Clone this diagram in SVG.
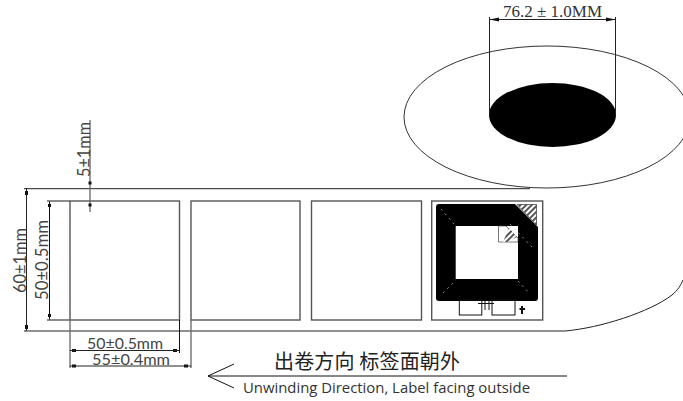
<svg xmlns="http://www.w3.org/2000/svg" width="683" height="401" viewBox="0 0 683 401">
<style>
.k{fill:none;stroke:#111;stroke-width:1}
.g{fill:none;stroke:#666;stroke-width:1.3}
.d{fill:none;stroke:#222;stroke-width:1}
.f{fill:#111}
.t{font-family:"Lato","Inter",sans-serif;font-weight:400;fill:#444;font-size:17px}
.s{font-size:14.500px}
.lab{fill:#fff;stroke:#555;stroke-width:1.4}
</style>
<defs>
<pattern id="hatch" width="4" height="4" patternUnits="userSpaceOnUse" patternTransform="rotate(45)"><rect width="4" height="4" fill="#fff"/><rect width="2" height="4" fill="#555"/></pattern>
</defs>
<rect width="683" height="401" fill="#fff"/>
<g id="roll">
<ellipse cx="547" cy="117" rx="143" ry="71" fill="none" stroke="#333" stroke-width="1"/>
<ellipse cx="552.5" cy="115" rx="63.500" ry="32" fill="#000"/>
<path class="d" d="M24 188.700H530M24 331H565C600 328 650 312 672 295C678 290 681 285 683 280"/>
</g>
<g id="label-1"><rect class="lab" x="70" y="201" width="109.500" height="119"/></g>
<g id="label-2"><rect class="lab" x="191" y="201" width="109" height="119"/></g>
<g id="label-3"><rect class="lab" x="311.500" y="201" width="110" height="119"/></g>
<g id="label-4">
<rect class="lab" x="431.700" y="201" width="111" height="119"/>
<path fill="#000" d="M439 204H515L538 227V298Q538 301 535 301H439Q436 301 436 298V207Q436 204 439 204ZM455.700 226V279H518V226Z" fill-rule="evenodd"/>
<path fill="url(#hatch)" stroke="#333" stroke-width=".7" d="M517 204.500H536.500V225Z"/>
<path fill="#fff" stroke="#444" stroke-width=".7" d="M498.500 226H506L518 238V242H498.500Z"/>
<path fill="url(#hatch)" d="M509 228L517 237L508 242H503Z"/>
<path stroke="#ccc" stroke-width=".7" stroke-dasharray="2 4" fill="none" d="M441 209L455 225M510 224L532 247M443 293L455 281M518 281L530 294"/>
<rect class="k" x="459.300" y="300" width="22.500" height="15"/>
<rect class="k" x="492" y="300" width="23" height="15"/>
<path class="k" d="M478 303.500H494M485 300V310M489 300V310"/>
<path class="f" d="M519.500 308H521V306H523V308H525V310H523V314H521V310H519.500Z"/>
</g>
<g id="connectors">
<path class="d" d="M489.500 17V115M615.500 17V115M489.500 19.500H615.500"/>
<path class="f" d="M489.500 19.500L499 17.500V21.500ZM615.500 19.500L606 17.500V21.500Z"/>
<path class="d" d="M26.500 188V331"/>
<path class="k" d="M49.500 201V320"/>
<path class="g" d="M47 201H70M47 320H70"/>
<path class="g" d="M90 120V212"/>
<path class="f" d="M88.500 181.500h3v3h-3zM88.500 203.500h3v3h-3zM25 191h3v4h-3zM25 325h3v4h-3zM48 204h3v3h-3zM48 314h3v3h-3zM72 349h4v3h-4zM173 349h4v3h-4zM72 364.500h4v3h-4zM184 364.500h4v3h-4z"/>
<path class="k" d="M179.500 320V353"/>
<path class="g" d="M70 320V368M191 320V368"/>
<path class="d" d="M70 350.500H179.500M70 366H191"/>
<path class="k" d="M234 364L208 376L234 388M208 376H567"/>
</g>
<g id="texts">
<text x="503" y="17" textLength="99" lengthAdjust="spacingAndGlyphs" style="font-family:'Liberation Serif',serif;font-size:16px;fill:#333">76.2 ± 1.0MM</text>
<text class="t" transform="translate(26 293) rotate(-90)" textLength="65" lengthAdjust="spacingAndGlyphs">60±1mm</text>
<text class="t" transform="translate(48 300) rotate(-90)" textLength="80" lengthAdjust="spacingAndGlyphs">50±0.5mm</text>
<text class="t" transform="translate(89.500 177) rotate(-90)" textLength="55" lengthAdjust="spacingAndGlyphs">5±1mm</text>
<text class="t s" x="87" y="348.500" textLength="76" lengthAdjust="spacingAndGlyphs">50±0.5mm</text>
<text class="t s" x="92" y="365" textLength="78" lengthAdjust="spacingAndGlyphs">55±0.4mm</text>
<text x="274" y="369" textLength="186" style="font-family:'Noto Sans CJK SC',sans-serif;font-size:20px;fill:#222">出卷方向 标签面朝外</text>
<text x="243" y="393" textLength="287" lengthAdjust="spacingAndGlyphs" style="font-family:'Open Sans',sans-serif;font-size:15px;fill:#333">Unwinding Direction, Label facing outside</text>
</g>
</svg>
